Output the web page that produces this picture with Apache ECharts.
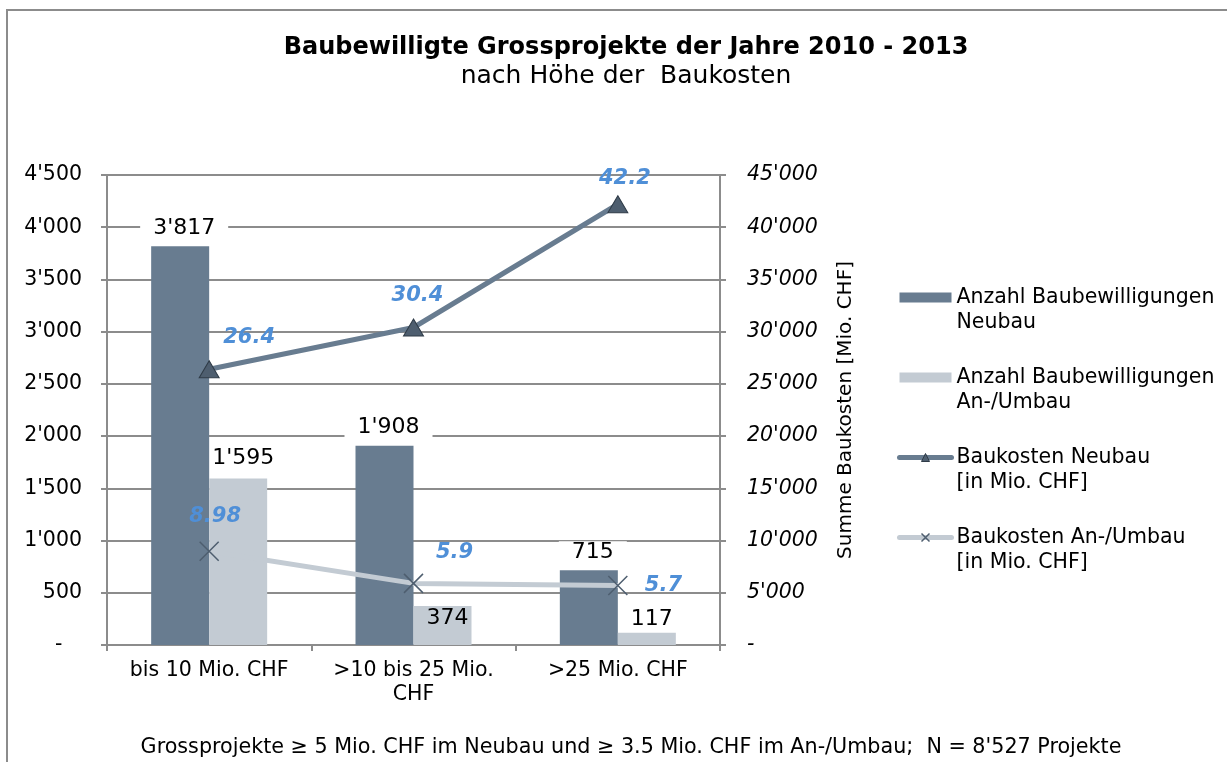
<!DOCTYPE html>
<html>
<head>
<meta charset="utf-8">
<script src="https://cdn.jsdelivr.net/npm/echarts@6/dist/echarts.min.js"></script>
<style>
  html, body { margin: 0; padding: 0; background: #fff; }
  #chart { width: 1227px; height: 762px; }
</style>
</head>
<body>
<div id="chart"></div>
<script>
const categories = ['bis 10 Mio. CHF', '>10 bis 25 Mio.\nCHF', '>25 Mio. CHF'];
const countNeubau = [3817, 1908, 715];
const countUmbau = [1595, 374, 117];
// Baukosten in Mia. CHF (right axis shows Mio. CHF)
const costNeubau = [26.4, 30.4, 42.2];
const costUmbau = [8.98, 5.9, 5.7];
const leftTicks = [0, 500, 1000, 1500, 2000, 2500, 3000, 3500, 4000, 4500];
const rightTicks = [0, 5, 10, 15, 20, 25, 30, 35, 40, 45];

const FONT = 'DejaVu Sans';
const GRID_GRAY = '#8c8c8c';
const DARK = '#687c90';
const LIGHT = '#c3cbd3';
const BLUE = '#4f8fd7';
const MARK = '#4e5e6f';

// 4500 -> 4'500
function fmt(v) {
  return String(v).replace(/\B(?=(\d{3})+(?!\d))/g, "'");
}

// label offsets for the cost points (layout only)
const neubauLabelOffset = [[40, 0], [4, 0], [7, 6]];
const umbauLabelOffset = [[6, 0], [41, 4], [0, 0]];

let myChart = echarts.init(document.getElementById('chart'));
const option = {
  backgroundColor: '#fff',
  textStyle: { fontFamily: FONT },
  graphic: [{
    type: 'rect',
    shape: { x: 7, y: 10, width: 1240, height: 780 },
    style: { fill: 'none', stroke: GRID_GRAY, lineWidth: 2 },
    silent: true
  }, {
    type: 'text',
    x: 631,
    y: 748,
    style: {
      text: "Grossprojekte \u2265 5 Mio. CHF im Neubau und \u2265 3.5 Mio. CHF im An-/Umbau;  N = 8'527 Projekte",
      font: '20.7px "DejaVu Sans"',
      fill: '#000',
      align: 'center',
      verticalAlign: 'middle'
    }
  }],
  title: {
    text: 'Baubewilligte Grossprojekte der Jahre 2010 - 2013',
    subtext: 'nach Höhe der  Baukosten',
    left: 621,
    textAlign: 'center',
    top: 31,
    itemGap: 4,
    textStyle: { fontFamily: FONT, fontSize: 24, fontWeight: 'bold', color: '#000' },
    subtextStyle: { fontFamily: FONT, fontSize: 25, color: '#000' }
  },
  legend: {
    orient: 'vertical',
    left: 892,
    top: 255,
    itemWidth: 52,
    itemHeight: 10,
    itemGap: 5,
    selectedMode: false,
    // leading empty line puts the icon next to the first text line
    formatter: name => '\n' + name,
    textStyle: { fontFamily: FONT, fontSize: 20.5, color: '#000', lineHeight: 25 },
    data: [
      { name: 'Anzahl Baubewilligungen\nNeubau', icon: 'rect' },
      { name: 'Anzahl Baubewilligungen\nAn-/Umbau', icon: 'rect' },
      {
        name: 'Baukosten Neubau\n[in Mio. CHF]',
        lineStyle: { color: DARK, width: 5, cap: 'round' },
        itemStyle: { color: MARK, borderColor: '#2f3b47', borderWidth: 1 }
      },
      {
        name: 'Baukosten An-/Umbau\n[in Mio. CHF]',
        lineStyle: { color: LIGHT, width: 5, cap: 'round' },
        itemStyle: { color: 'none', borderColor: MARK, borderWidth: 1.5 }
      }
    ]
  },
  grid: { left: 107, right: 507, top: 175, bottom: 117 },
  xAxis: {
    type: 'category',
    data: categories,
    axisLine: { lineStyle: { color: GRID_GRAY, width: 2 } },
    axisTick: { show: true, interval: 0, length: 6, lineStyle: { color: GRID_GRAY, width: 2 } },
    axisLabel: { interval: 0, hideOverlap: false, color: '#000', fontSize: 20.5, margin: 14, lineHeight: 24 }
  },
  yAxis: [{
    type: 'value',
    min: 0,
    max: 4500,
    interval: 500,
    axisLine: { show: true, lineStyle: { color: GRID_GRAY, width: 2 } },
    axisTick: { show: true, length: 6, lineStyle: { color: GRID_GRAY, width: 2 } },
    splitLine: { lineStyle: { color: GRID_GRAY, width: 2 } },
    axisLabel: {
      color: '#000', fontSize: 20.5, margin: 25,
      formatter: v => leftTicks.includes(v) ? (v === 0 ? '-   ' : fmt(v)) : ''
    }
  }, {
    type: 'value',
    min: 0,
    max: 45,
    interval: 5,
    name: 'Summe Baukosten [Mio. CHF]',
    nameLocation: 'middle',
    nameGap: 116,
    nameRotate: 90,
    nameTextStyle: { color: '#000', fontSize: 20, fontFamily: FONT },
    axisLine: { show: true, lineStyle: { color: GRID_GRAY, width: 2 } },
    axisTick: { show: true, length: 6, lineStyle: { color: GRID_GRAY, width: 2 } },
    splitLine: { show: false },
    axisLabel: {
      color: '#000', fontSize: 20.5, margin: 27, fontStyle: 'italic',
      formatter: v => rightTicks.includes(v) ? (v === 0 ? '-' : fmt(v * 1000)) : ''
    }
  }],
  series: [{
    name: 'Anzahl Baubewilligungen\nNeubau',
    type: 'bar',
    barWidth: 58,
    barGap: '0%',
    itemStyle: { color: DARK },
    label: {
      show: true, position: 'top', distance: 7, offset: [4, 0],
      color: '#000', fontSize: 22, fontFamily: FONT,
      backgroundColor: '#fff', padding: [0, 13],
      formatter: p => fmt(p.value)
    },
    data: countNeubau
  }, {
    name: 'Anzahl Baubewilligungen\nAn-/Umbau',
    type: 'bar',
    barWidth: 58,
    barGap: '0%',
    itemStyle: { color: LIGHT },
    label: {
      show: true, position: 'top', distance: 9, offset: [5, 0],
      color: '#000', fontSize: 22, fontFamily: FONT,
      formatter: p => fmt(p.value)
    },
    data: countUmbau.map((v, i) => i === 1
      ? { value: v, label: { position: 'insideTop', distance: 1 } }
      : (i === 2 ? { value: v, label: { distance: 2 } } : v))
  }, {
    name: 'Baukosten Neubau\n[in Mio. CHF]',
    type: 'line',
    yAxisIndex: 1,
    z: 5,
    symbol: 'triangle',
    symbolSize: [20, 17],
    lineStyle: { color: DARK, width: 5 },
    itemStyle: { color: MARK, borderColor: '#2f3b47', borderWidth: 1 },
    label: {
      show: true, position: 'top', distance: 12,
      color: BLUE, fontSize: 21, fontStyle: 'italic', fontWeight: 'bold', fontFamily: FONT
    },
    data: costNeubau.map((v, i) => ({ value: v, label: { offset: neubauLabelOffset[i] } }))
  }, {
    name: 'Baukosten An-/Umbau\n[in Mio. CHF]',
    type: 'line',
    yAxisIndex: 1,
    z: 5,
    symbol: 'path://M0,0L10,10M10,0L0,10',
    symbolSize: 19,
    lineStyle: { color: LIGHT, width: 5 },
    itemStyle: { color: 'none', borderColor: MARK, borderWidth: 1.5 },
    label: {
      show: true, position: 'top', distance: 12,
      color: BLUE, fontSize: 21, fontStyle: 'italic', fontWeight: 'bold', fontFamily: FONT,
      formatter: p => String(p.value)
    },
    data: costUmbau.map((v, i) => i === 2
      ? { value: v, label: { position: 'right', distance: 15 } }
      : { value: v, label: { offset: umbauLabelOffset[i] } })
  }]
};
myChart.setOption(option);
</script>
</body>
</html>
